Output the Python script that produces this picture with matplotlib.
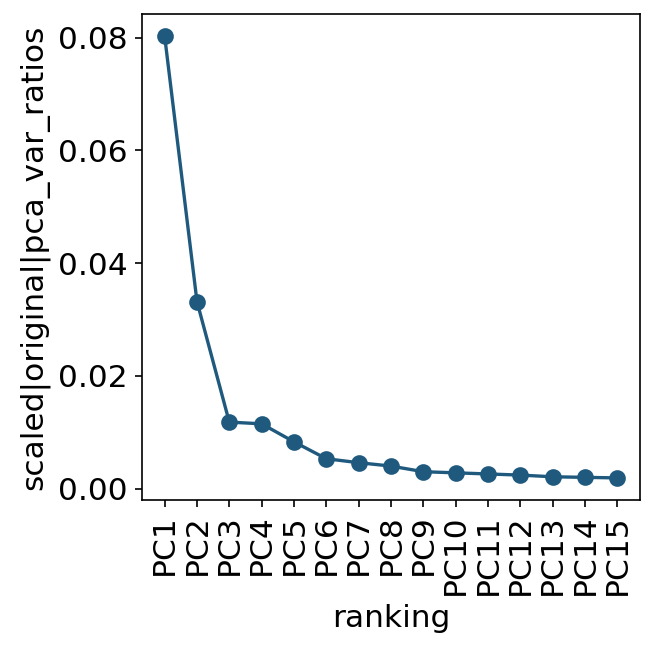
import matplotlib
matplotlib.use("Agg")
import matplotlib.pyplot as plt

labels = ["PC%d" % i for i in range(1, 16)]
values = [0.0803, 0.0332, 0.0118, 0.0115, 0.0083, 0.0053, 0.0046, 0.0040,
          0.0030, 0.0028, 0.0026, 0.0024, 0.0021, 0.0020, 0.0019]

plt.rcParams['font.size'] = 15
fig = plt.figure(figsize=(656/150, 653/150), dpi=150)
ax = fig.add_axes([142/656, 1 - 500/653, (640-142)/656, (500-14)/653])
ax.plot(labels, values, color='#1f5a7e', marker='o', markersize=7, linewidth=1.6)
ax.set_xlabel('ranking')
ax.set_ylabel('scaled|original|pca_var_ratios')
ax.set_yticks([0.0, 0.02, 0.04, 0.06, 0.08])
ax.tick_params(axis='x', rotation=90)
fig.savefig('out.png', dpi=150)
